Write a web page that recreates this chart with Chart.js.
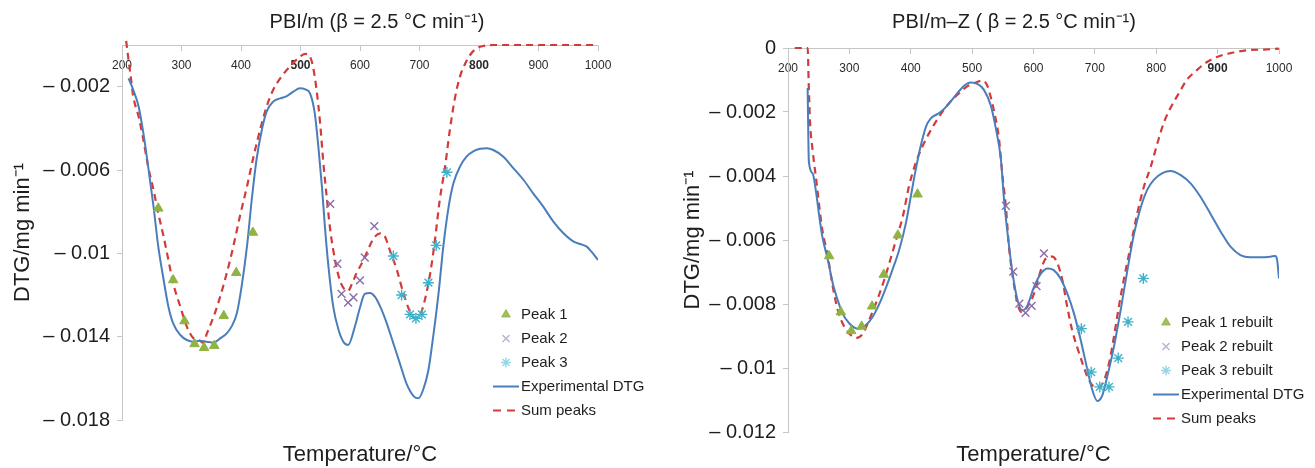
<!DOCTYPE html>
<html>
<head>
<meta charset="utf-8">
<title>DTG peak deconvolution</title>
<script src="https://cdn.jsdelivr.net/npm/chart.js@4.4.0/dist/chart.umd.min.js"></script>
<style>
    html, body { margin: 0; padding: 0; background: #fff; overflow: hidden; }
    body { width: 1315px; height: 468px; position: relative; }
    canvas { position: absolute; top: 0; }
    #leftChart { left: 0; }
    #rightChart { left: 680px; }
</style>
</head>
<body>
<canvas id="leftChart" width="754" height="468"></canvas>
<canvas id="rightChart" width="668" height="468"></canvas>
<script>
// ==========================================
// Data (temperature °C, DTG mg min-1)
// ==========================================

const TEMP_MIN = 200;
const TEMP_MAX = 1000;

// PBI/m
const leftYTicks = [-0.002, -0.006, -0.01, -0.014, -0.018];
const leftBoldX = [500, 800];
const leftLabels = ['Peak 1', 'Peak 2', 'Peak 3', 'Experimental DTG', 'Sum peaks'];

const leftExp = [
    [211, -0.00160], [219, -0.00216], [228, -0.00296], [236, -0.00424], [244, -0.00584],
    [253, -0.00776], [261, -0.00968], [270, -0.01128], [278, -0.01256], [286, -0.01336],
    [298, -0.01392], [309, -0.01416], [320, -0.01424], [331, -0.01419], [342, -0.01424],
    [354, -0.01429], [365, -0.01408], [376, -0.01384], [384, -0.01352], [393, -0.01288],
    [401, -0.01160], [410, -0.00968], [418, -0.00744], [426, -0.00552], [435, -0.00408],
    [443, -0.00320], [454, -0.00272], [466, -0.00256], [477, -0.00245], [488, -0.00224],
    [499, -0.00208], [508, -0.00213], [516, -0.00232], [524, -0.00328], [530, -0.00488],
    [536, -0.00680], [541, -0.00872], [547, -0.01064], [555, -0.01256], [564, -0.01368],
    [572, -0.01424], [580, -0.01440], [592, -0.01345], [600, -0.01260], [608, -0.01195],
    [617, -0.01190], [625, -0.01208], [634, -0.01256], [645, -0.01336], [656, -0.01432],
    [667, -0.01528], [678, -0.01624], [690, -0.01685], [698, -0.01696], [706, -0.01656],
    [715, -0.01560], [723, -0.01400], [732, -0.01192], [740, -0.00968], [749, -0.00776],
    [757, -0.00664], [768, -0.00584], [779, -0.00536], [791, -0.00509], [802, -0.00498],
    [813, -0.00496], [824, -0.00504], [841, -0.00536], [858, -0.00592], [875, -0.00648],
    [891, -0.00712], [908, -0.00776], [925, -0.00848], [942, -0.00904], [959, -0.00944],
    [970, -0.00955], [981, -0.00968], [989, -0.00992], [1000, -0.01032]
];

const leftSum = [
    [207, 0.00020], [211, -0.00072], [214, -0.00136], [219, -0.00248], [228, -0.00344],
    [236, -0.00456], [244, -0.00584], [253, -0.00696], [261, -0.00808], [270, -0.00920],
    [278, -0.01032], [286, -0.01144], [298, -0.01256], [309, -0.01352], [320, -0.01408],
    [331, -0.01420], [337, -0.01430], [342, -0.01390], [354, -0.01304], [365, -0.01208],
    [376, -0.01096], [387, -0.00968], [398, -0.00824], [410, -0.00680], [421, -0.00536],
    [432, -0.00408], [443, -0.00296], [454, -0.00216], [468, -0.00152], [482, -0.00104],
    [496, -0.00064], [508, -0.00043], [516, -0.00056], [521, -0.00104], [527, -0.00216],
    [533, -0.00376], [538, -0.00552], [544, -0.00728], [550, -0.00888], [558, -0.01032],
    [566, -0.01128], [575, -0.01176], [580, -0.01180], [586, -0.01150], [594, -0.01096],
    [606, -0.01032], [617, -0.00960], [625, -0.00920], [634, -0.00904], [642, -0.00920],
    [650, -0.00984], [662, -0.01080], [673, -0.01192], [684, -0.01280], [692, -0.01312],
    [701, -0.01296], [709, -0.01224], [718, -0.01096], [726, -0.00936], [734, -0.00744],
    [743, -0.00584], [751, -0.00408], [760, -0.00248], [768, -0.00152], [777, -0.00088],
    [785, -0.00048], [796, -0.00016], [807, -0.00005], [824, 0], [1000, 0]
];

const leftPeak1 = [
    [261, -0.00784], [286, -0.01128], [305, -0.01325], [322, -0.01435], [338, -0.01453],
    [355, -0.01443], [371, -0.01300], [392, -0.01093], [420, -0.00900]
];
const leftPeak2 = [
    [550, -0.00763], [562, -0.01050], [569, -0.01195], [580, -0.01237], [589, -0.01211],
    [600, -0.01130], [608, -0.01020], [624, -0.00869]
];
const leftPeak3 = [
    [656, -0.01013], [670, -0.01200], [684, -0.01293], [694, -0.01312], [704, -0.01293],
    [715, -0.01141], [728, -0.00962], [746, -0.00611]
];

// PBI/m-Z
const rightYTicks = [0, -0.002, -0.004, -0.006, -0.008, -0.01, -0.012];
const rightBoldX = [900];
const rightLabels = ['Peak 1 rebuilt', 'Peak 2 rebuilt', 'Peak 3 rebuilt', 'Experimental DTG', 'Sum peaks'];

const rightExp = [
    [232, -0.00125], [234, -0.00355], [240, -0.00391], [246, -0.00454], [251, -0.00527],
    [256, -0.00590], [265, -0.00663], [273, -0.00736], [281, -0.00788], [289, -0.00830],
    [300, -0.00861], [313, -0.00877], [327, -0.00866], [338, -0.00840], [349, -0.00799],
    [359, -0.00752], [370, -0.00694], [381, -0.00632], [392, -0.00548], [400, -0.00465],
    [408, -0.00381], [416, -0.00308], [425, -0.00245], [433, -0.00219], [444, -0.00206],
    [454, -0.00191], [465, -0.00167], [476, -0.00141], [487, -0.00118], [498, -0.00108],
    [509, -0.00113], [519, -0.00130], [530, -0.00177], [538, -0.00245], [547, -0.00350],
    [552, -0.00475], [559, -0.00600], [566, -0.00705], [574, -0.00788], [582, -0.00820],
    [590, -0.00805], [601, -0.00746], [612, -0.00705], [623, -0.00689], [633, -0.00694],
    [644, -0.00720], [655, -0.00767], [666, -0.00830], [677, -0.00913], [688, -0.01007],
    [696, -0.01070], [704, -0.01103], [712, -0.01086], [720, -0.01028], [731, -0.00934],
    [742, -0.00819], [753, -0.00694], [764, -0.00579], [775, -0.00496], [785, -0.00444],
    [796, -0.00412], [810, -0.00391], [823, -0.00384], [840, -0.00397], [856, -0.00423],
    [872, -0.00465], [888, -0.00517], [905, -0.00574], [921, -0.00621], [937, -0.00647],
    [953, -0.00654], [970, -0.00654], [986, -0.00652], [994, -0.00650], [997, -0.00663],
    [1000, -0.00720]
];

const rightSum = [
    [211, 0], [232, 0], [234, -0.00130], [236, -0.00235], [240, -0.00318],
    [246, -0.00412], [251, -0.00496], [256, -0.00569], [265, -0.00652], [273, -0.00746],
    [281, -0.00819], [292, -0.00872], [303, -0.00898], [312, -0.00906], [322, -0.00892],
    [332, -0.00851], [343, -0.00799], [354, -0.00741], [365, -0.00673], [376, -0.00600],
    [387, -0.00527], [397, -0.00433], [408, -0.00360], [419, -0.00308], [430, -0.00266],
    [441, -0.00230], [452, -0.00198], [465, -0.00167], [479, -0.00141], [492, -0.00120],
    [506, -0.00108], [517, -0.00101], [524, -0.00115], [530, -0.00151], [537, -0.00209],
    [544, -0.00287], [549, -0.00391], [555, -0.00496], [560, -0.00621], [567, -0.00725],
    [574, -0.00799], [580, -0.00825], [590, -0.00809], [601, -0.00767], [612, -0.00694],
    [620, -0.00658], [631, -0.00652], [639, -0.00673], [647, -0.00725], [655, -0.00809],
    [663, -0.00882], [671, -0.00934], [680, -0.00986], [688, -0.01028], [696, -0.01054],
    [707, -0.01059], [715, -0.01038], [723, -0.00986], [731, -0.00903], [739, -0.00809],
    [747, -0.00725], [758, -0.00621], [769, -0.00517], [780, -0.00433], [791, -0.00371],
    [802, -0.00297], [812, -0.00235], [823, -0.00188], [837, -0.00141], [850, -0.00099],
    [864, -0.00073], [880, -0.00047], [899, -0.00028], [921, -0.00016], [948, -0.00007],
    [975, -0.00005], [1000, -0.00002]
];

const rightPeak1 = [
    [267, -0.00650], [286, -0.00825], [303, -0.00884], [320, -0.00870], [337, -0.00807],
    [356, -0.00708], [379, -0.00585], [411, -0.00457]
];
const rightPeak2 = [
    [555, -0.00493], [567, -0.00699], [577, -0.00799], [587, -0.00828], [597, -0.00806],
    [605, -0.00744], [617, -0.00642]
];
const rightPeak3 = [
    [678, -0.00877], [694, -0.01013], [708, -0.01059], [723, -0.01059], [738, -0.00969],
    [754, -0.00856], [779, -0.00720]
];

// ==========================================
// Styling
// ==========================================

const FONT = "'Liberation Sans', Arial, Helvetica, sans-serif";
const INK = '#1e1e1e';
const AXIS_GREY = '#c6c6c6';
const BLUE = '#4a7ebb';
const RED = '#d33b3b';
const GREEN = '#8fb443';
const PURPLE = '#8a6cab';
const CYAN = '#3fb2cb';

Chart.defaults.font.family = FONT;
Chart.defaults.color = INK;

function pts(pairs) {
    return pairs.map(p => ({ x: p[0], y: p[1] }));
}

function fmtY(v) {
    if (Math.abs(v) < 1e-9) return '0';
    return '– ' + parseFloat(Math.abs(v).toFixed(4));
}

// legend swatch for the two curves (a short line, dashed for the sum)
function lineSwatch(color, width, dash) {
    const c = document.createElement('canvas');
    c.width = 26;
    c.height = 6;
    const g = c.getContext('2d');
    g.strokeStyle = color;
    g.lineWidth = width;
    g.setLineDash(dash);
    g.beginPath();
    g.moveTo(0, 3);
    g.lineTo(26, 3);
    g.stroke();
    return c;
}

// moves the (chartArea) legend to a fixed spot inside the plot
const legendSpot = {
    id: 'legendSpot',
    afterLayout(chart, args, opts) {
        const lg = chart.legend;
        if (!lg) return;
        const w = lg.width, h = lg.height;
        lg.left = opts.x;
        lg.top = opts.y;
        lg.right = opts.x + w;
        lg.bottom = opts.y + h;
    }
};

function legendLabels(chart) {
    const items = Chart.defaults.plugins.legend.labels.generateLabels(chart);
    items.forEach(it => {
        const ds = chart.data.datasets[it.datasetIndex];
        if (ds.showLine === false) {
            it.fillStyle = ds.legendColor;
            it.strokeStyle = ds.legendColor;
        } else {
            it.pointStyle = lineSwatch(ds.borderColor, ds.borderWidth, ds.borderDash ? [8, 6] : []);
        }
    });
    return items;
}

function markerSet(label, pairs, style, color, radius, legendColor) {
    return {
        label: label,
        data: pts(pairs),
        showLine: false,
        pointStyle: style,
        pointRadius: radius,
        pointBackgroundColor: color,
        pointBorderColor: color,
        pointBorderWidth: style === 'triangle' ? 1 : 1.4,
        backgroundColor: color,
        borderColor: color,
        legendColor: legendColor,
        xAxisID: 'x',
        yAxisID: 'y'
    };
}

function buildChart(id, o) {
    return new Chart(document.getElementById(id), {
        type: 'line',
        data: {
            datasets: [
                markerSet(o.labels[0], o.peak1, 'triangle', GREEN, 5.5, 'rgba(143,180,67,0.85)'),
                markerSet(o.labels[1], o.peak2, 'crossRot', PURPLE, 5.5, 'rgba(138,108,171,0.55)'),
                markerSet(o.labels[2], o.peak3, 'star', CYAN, 5.5, 'rgba(63,178,203,0.55)'),
                {
                    label: o.labels[3],
                    data: pts(o.exp),
                    borderColor: BLUE,
                    backgroundColor: BLUE,
                    borderWidth: 2,
                    pointRadius: 0,
                    cubicInterpolationMode: 'monotone',
                    xAxisID: 'x',
                    yAxisID: 'y'
                },
                {
                    label: o.labels[4],
                    data: pts(o.sum),
                    borderColor: RED,
                    backgroundColor: RED,
                    borderWidth: 2.2,
                    borderDash: [7, 5],
                    pointRadius: 0,
                    cubicInterpolationMode: 'monotone',
                    clip: 6,
                    xAxisID: 'x',
                    yAxisID: 'y'
                }
            ]
        },
        options: {
            responsive: false,
            animation: false,
            devicePixelRatio: 1,
            layout: { padding: 0 },
            plugins: {
                title: {
                    display: true,
                    text: o.title,
                    color: INK,
                    font: { size: 20, weight: 'normal' },
                    padding: { top: 10, bottom: 0 }
                },
                legend: {
                    position: 'chartArea',
                    align: 'start',
                    labels: {
                        usePointStyle: true,
                        boxHeight: 7,
                        padding: 9,
                        color: INK,
                        font: { size: 15 },
                        generateLabels: legendLabels
                    }
                },
                legendSpot: { x: o.legendX, y: o.legendY },
                tooltip: { enabled: false }
            },
            scales: {
                x: {
                    type: 'linear',
                    position: 'top',
                    min: TEMP_MIN,
                    max: TEMP_MAX,
                    ticks: {
                        stepSize: 100,
                        mirror: true,
                        padding: 13,
                        autoSkip: false,
                        maxRotation: 0,
                        color: '#2a2a2a',
                        callback: v => String(v),
                        font: ctx => ({ size: 12, weight: o.boldX.includes(ctx.tick && ctx.tick.value) ? 'bold' : 'normal' })
                    },
                    grid: { drawOnChartArea: false, tickLength: -6, color: AXIS_GREY },
                    border: { color: AXIS_GREY },
                    afterFit: s => { s.height = o.xTopH; }
                },
                xTitle: {
                    type: 'linear',
                    position: 'bottom',
                    min: TEMP_MIN,
                    max: TEMP_MAX,
                    ticks: { display: false },
                    grid: { display: false },
                    border: { display: false },
                    title: {
                        display: true,
                        text: 'Temperature/°C',
                        color: INK,
                        font: { size: 22 },
                        padding: { top: 0, bottom: 0 }
                    },
                    afterFit: s => { s.height = o.xBotH; }
                },
                y: {
                    type: 'linear',
                    position: 'left',
                    min: o.yMin,
                    max: 0,
                    afterBuildTicks: s => { s.ticks = o.yTicks.map(v => ({ value: v })); },
                    ticks: { callback: fmtY, color: INK, font: { size: 20 }, padding: 7 },
                    grid: { drawOnChartArea: false, tickLength: 5, color: AXIS_GREY },
                    border: { color: AXIS_GREY },
                    title: {
                        display: true,
                        text: 'DTG/mg min⁻¹',
                        color: INK,
                        font: { size: 22 },
                        padding: { top: o.yTitlePad, bottom: 0 }
                    },
                    afterFit: s => { s.width = o.yW; }
                },
                yPad: {
                    type: 'linear',
                    position: 'right',
                    ticks: { display: false },
                    grid: { display: false },
                    border: { display: false },
                    afterFit: s => { s.width = o.rightW; }
                }
            }
        },
        plugins: [legendSpot]
    });
}

buildChart('leftChart', {
    title: 'PBI/m (β = 2.5 °C min⁻¹)',
    labels: leftLabels,
    exp: leftExp,
    sum: leftSum,
    peak1: leftPeak1,
    peak2: leftPeak2,
    peak3: leftPeak3,
    yTicks: leftYTicks,
    yMin: -0.018,
    boldX: leftBoldX,
    xTopH: 11,
    xBotH: 48,
    yW: 122,
    rightW: 156,
    yTitlePad: 10,
    legendX: 489.5,
    legendY: 298
});

buildChart('rightChart', {
    title: 'PBI/m–Z ( β = 2.5 °C min⁻¹)',
    labels: rightLabels,
    exp: rightExp,
    sum: rightSum,
    peak1: rightPeak1,
    peak2: rightPeak2,
    peak3: rightPeak3,
    yTicks: rightYTicks,
    yMin: -0.012,
    boldX: rightBoldX,
    xTopH: 14,
    xBotH: 36,
    yW: 108,
    rightW: 69,
    yTitlePad: 0,
    legendX: 469.5,
    legendY: 306
});
</script>
</body>
</html>
